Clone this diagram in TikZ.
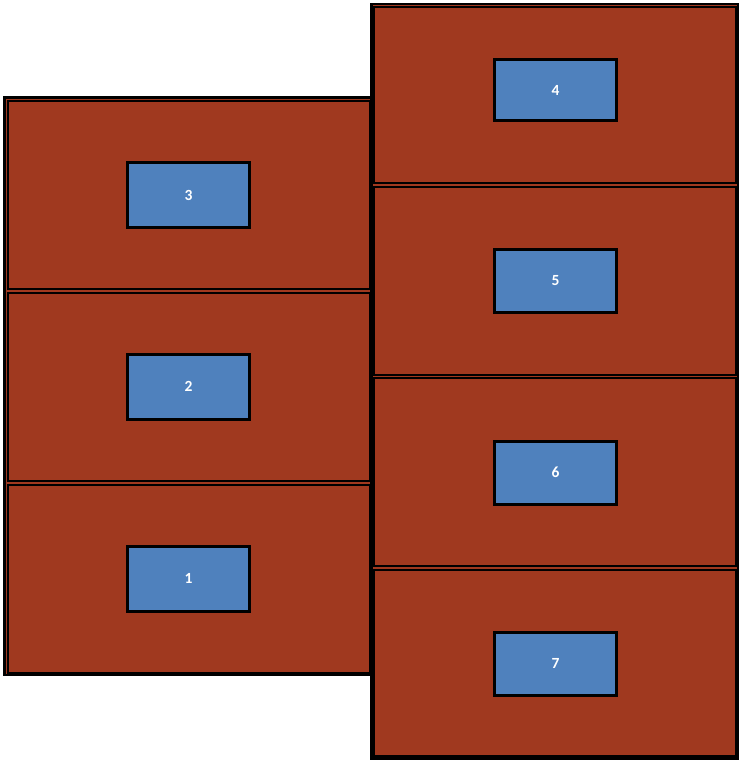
\documentclass[tikz,border=0pt]{standalone}
\usepackage{fontspec}
\setmainfont{Carlito}
\definecolor{rust}{RGB}{160,57,31}
\definecolor{boxblue}{RGB}{79,129,189}
\begin{document}
\begin{tikzpicture}[x=1pt,y=-1pt,
  frame/.style={draw=black,fill=rust,line width=2.5pt},
  bigbox/.style={draw=black,fill=rust,line width=2pt,inner sep=0pt,minimum width=362pt},
  tag/.style={draw=black,fill=boxblue,line width=3pt,inner sep=0pt,minimum width=122pt,minimum height=64pt,
    text=white,font=\fontsize{15.5}{17}\selectfont\bfseries}]
\useasboundingbox (0,0) rectangle (740,762);
% column frames
\draw[frame] (4.5,97.5) rectangle (371.5,675);
\draw[frame] (371.5,4) rectangle (738,758.5);
% left column boxes
\node[bigbox,minimum height=188pt] (b3) at (189,195) {};
\node[bigbox,minimum height=188pt] (b2) at (189,386.5) {};
\node[bigbox,minimum height=188pt] (b1) at (189,578.5) {};
% right column boxes
\node[bigbox,minimum height=176pt] (b4) at (555,95) {};
\node[bigbox,minimum height=188pt] (b5) at (555,280.5) {};
\node[bigbox,minimum height=188pt] (b6) at (555,472) {};
\node[bigbox,minimum height=186pt] (b7) at (555,663) {};
% blue tags
\node[tag,minimum height=65pt] (t3) at (188.5,195) {3};
\node[tag,minimum height=65pt] (t2) at (188.5,386.5) {2};
\node[tag,minimum height=65pt] (t1) at (188.5,578.5) {1};
\node[tag,minimum height=61pt] (t4) at (555.5,90) {4};
\node[tag,minimum height=63pt] (t5) at (555.5,280.5) {5};
\node[tag,minimum height=63pt] (t6) at (555.5,472.5) {6};
\node[tag,minimum height=63pt] (t7) at (555.5,663.5) {7};
\end{tikzpicture}
\end{document}
